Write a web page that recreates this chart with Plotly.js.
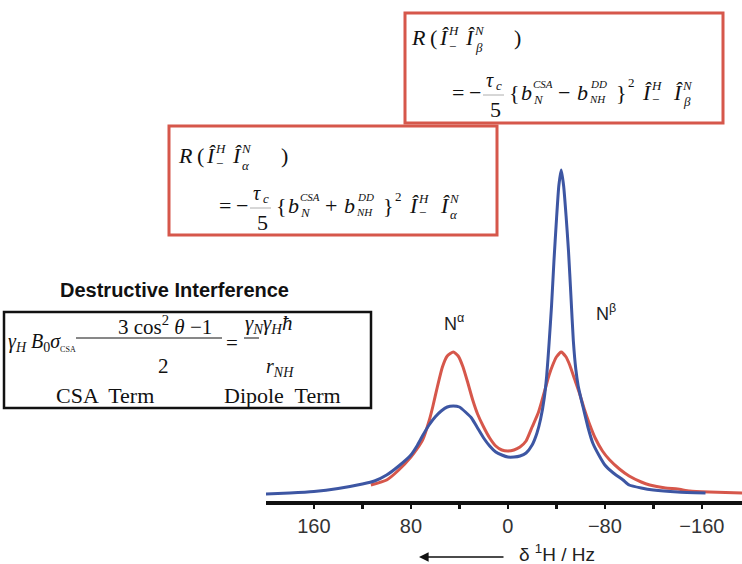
<!DOCTYPE html>
<html><head><meta charset="utf-8">
<script src="https://cdn.plot.ly/plotly-3.0.1.min.js"></script>
<style>html,body{margin:0;padding:0;background:#fff;}#c{width:742px;height:564px;}</style>
</head><body><div id="c"></div>
<script>
// ---- data ----
const hzBlue = [200,180,160,140,120,110,100,90,80,75,70,65,60,55,50,45,40,35,30,25,20,15,10,5,0,-5,-10,-15,-20,-24,-27,-30,-32,-34,-36,-38,-40,-42,-44,-46,-48,-50,-52,-54,-56,-58,-60,-62,-66,-70,-75,-80,-87,-95,-100,-110,-120,-140,-163];
const blueVals = [7,8,9.5,12.5,17,20,26,35,46,55,66,76,84,90,94,95,94,89,83,73,63,55,49,46,44,44,45,48,56,68,82,103,125,158,195,240,280,315,331,315,285,250,205,160,132,115,104,94,74,58,46,36,28,21,16,13,11,9,8];
const hzRed = [113,100,90,80,75,70,65,62,58,54,50,45,41,37,33,29,25,20,15,10,5,0,-5,-10,-15,-20,-25,-28,-31,-34,-37,-40,-44,-48,-51,-55,-59,-63,-67,-72,-78,-84,-92,-100,-110,-117,-130,-140,-150,-166,-194];
const redVals = [16,21,31,44,52,62,80,94,115,134,145,149,145,134,118,101,87,74,63,55,51,50,51,54,60,74,88,100,113,126,136,144,149,144,136,122,108,92,78,63,50,41,32,25,19,16,13,12,10,9,8];
const tickVals = [160,120,80,40,0,-40,-80,-120,-160];
const tickText = ['160','','80','','0','','\u221280','','\u2212160'];
const peakLabels = ['N<sup>\u03B1</sup>','N<sup>\u03B2</sup>'];
const axisTitle = '\u03B4 <sup>1</sup>H / Hz';

// ---- layout helpers (pixel -> paper) ----
const L=266, R=0, T=150, B=63, WW=742, HH=564;
const PW=WW-L-R, PH=HH-T-B;
const px=x=>(x-L)/PW, py=y=>(HH-B-y)/PH;
const RED='#d6574b', BLUE='#3d56a3';
const serif='Liberation Serif, Times New Roman, serif';
const sans='Liberation Sans, Arial, sans-serif';

function txt(x,y,t,size,opts){
  return Object.assign({xref:'paper',yref:'paper',x:px(x),y:py(y),text:t,showarrow:false,borderpad:0,
    xanchor:'left',yanchor:'middle',font:{family:serif,size:size,color:'#111'}},opts||{});
}
function rect(x0,y0,x1,y1,col,w){
  return {type:'rect',xref:'paper',yref:'paper',x0:px(x0),x1:px(x1),y0:py(y0),y1:py(y1),
    line:{color:col,width:w},fillcolor:'rgba(255,255,255,0)'};
}
function hline(x0,x1,y,w,col){
  return {type:'line',xref:'paper',yref:'paper',x0:px(x0),x1:px(x1),y0:py(y),y1:py(y),line:{color:col||'#111',width:w}};
}

// relaxation-rate formula pieces: [x, y, text, size]
function formula(dx,dy1,dy2,op,spin){
  const l1=[[410,38,'<i>R</i>',22],[429,38,'(',22],[438,38,'<i>\u00CE</i>',22],[447,31,'<i>H</i>',13],[448,46,'\u2212',13],
    [464,38,'<i>\u00CE</i>',22],[473,31,'<i>N</i>',13],[474,48,'<i>'+spin+'</i>',13],[513,38,')',22]];
  const l2=[[451,92,'=',22],[468,92,'\u2212',22],[485,80,'<i>\u03C4</i>',20],[495,85,'<i>c</i>',13],[489,109,'5',22],
    [508,92,'{',22],[520,92,'<i>b</i>',22],[532,84,'<i>CSA</i>',11],[532,99,'<i>N</i>',13],[557,92,op,22],
    [576,92,'<i>b</i>',22],[589,84,'<i>DD</i>',11],[588,99,'<i>NH</i>',11],[615,92,'}',22],[627,83,'2',13],
    [641,92,'<i>\u00CE</i>',22],[650,85,'<i>H</i>',13],[651,99,'\u2212',13],[672,92,'<i>\u00CE</i>',22],[681,85,'<i>N</i>',13],[682,101,'<i>'+spin+'</i>',13]];
  const out=[];
  l1.forEach(p=>out.push(txt(p[0]+dx,p[1]+dy1,p[2],p[3])));
  l2.forEach(p=>out.push(txt(p[0]+dx,p[1]+dy2,p[2],p[3])));
  return out;
}

const annotations = [].concat(
  formula(0,0,0,'\u2212','\u03B2'),
  formula(-233,117,113,'+','\u03B1'),
  [
  txt(174,290,'<b>Destructive Interference</b>',20,{xanchor:'center',font:{family:sans,size:20,color:'#111'}}),
  txt(7,342,'<i>\u03B3</i><sub><i>H</i></sub> <i>B</i><sub>0</sub><i>\u03C3</i><sub><span style="font-size:8px">CSA</span></sub>',20),
  txt(165,325,'3 cos<sup>2</sup> <i>\u03B8</i> \u22121',21,{xanchor:'center'}),
  txt(163,366,'2',21,{xanchor:'center'}),
  txt(225,343,'=',21),
  txt(244,324,'<i>\u03B3</i><sub><i>N</i></sub><i>\u03B3</i><sub><i>H</i></sub><i>\u0127</i>',21),
  txt(280,367,'<i>r</i><sub><i>NH</i></sub>',20,{xanchor:'center'}),
  txt(105,395,'CSA  Term',22,{xanchor:'center'}),
  txt(282,395,'Dipole  Term',22,{xanchor:'center'}),
  txt(454,322,peakLabels[0],18,{xanchor:'center',font:{family:sans,size:18,color:'#222'}}),
  txt(606,312,peakLabels[1],18,{xanchor:'center',font:{family:sans,size:18,color:'#222'}}),
  txt(557,553,axisTitle,19,{xanchor:'center',font:{family:sans,size:19,color:'#222'}}),
  {xref:'paper',yref:'paper',x:px(419),y:py(557),ax:86,ay:0,text:'',showarrow:true,arrowhead:2,arrowsize:1.2,arrowwidth:1.6,arrowcolor:'#111'}
  ]);

const shapes = [
  rect(405,13,723,123,RED,3),
  rect(169,126,497,235,RED,3),
  rect(4,312,371,408,'#111',2.5),
  hline(483,504,95,0.8,'#999'),
  hline(250,271,208,0.8,'#999'),
  hline(76,222,338,1),
  hline(244,259,338,1)
];

const data = [
  {x:hzRed,y:redVals,type:'scatter',mode:'lines',line:{color:RED,width:3,shape:'spline',smoothing:0.5},hoverinfo:'skip'},
  {x:hzBlue,y:blueVals,type:'scatter',mode:'lines',line:{color:BLUE,width:3,shape:'spline',smoothing:0.5},hoverinfo:'skip'}
];

const layout = {
  width:WW,height:HH,margin:{l:L,r:R,t:T,b:B,pad:0},
  paper_bgcolor:'#fff',plot_bgcolor:'#fff',showlegend:false,
  xaxis:{range:[199.5,-193.1],tickmode:'array',tickvals:tickVals,ticktext:tickText,
    ticks:'outside',ticklen:4,tickwidth:2.5,tickcolor:'#111',showline:true,linecolor:'#111',linewidth:4,
    showgrid:false,zeroline:false,tickfont:{family:sans,size:20,color:'#333'},fixedrange:true},
  yaxis:{range:[0,351],visible:false,fixedrange:true},
  annotations:annotations,shapes:shapes
};
Plotly.newPlot('c',data,layout,{staticPlot:true});
</script></body></html>
